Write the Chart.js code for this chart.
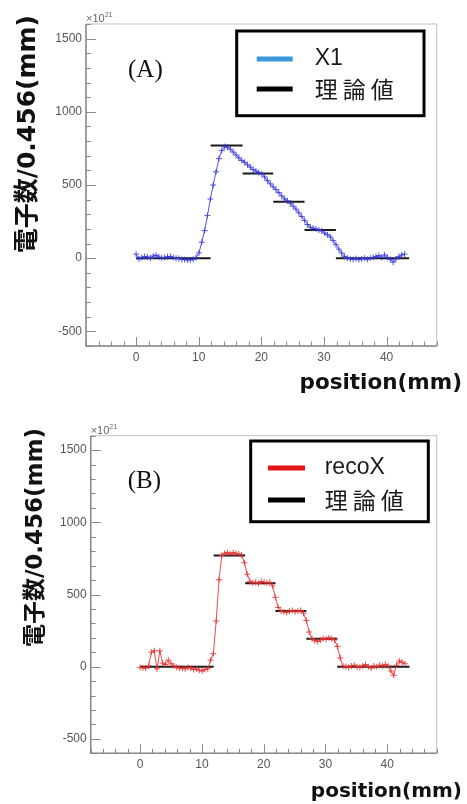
<!DOCTYPE html>
<html>
<head>
<meta charset="utf-8">
<script src="https://cdn.jsdelivr.net/npm/chart.js@4.4.0/dist/chart.umd.min.js"></script>
<style>
html, body { margin: 0; padding: 0; background: #fff; }
.panel { position: absolute; left: 0; width: 467px; }
#panelA { top: 0; height: 400px; }
#panelB { top: 400px; height: 404px; }
</style>
</head>
<body>
<div class="panel" id="panelA"><canvas id="chartA"></canvas></div>
<div class="panel" id="panelB"><canvas id="chartB"></canvas></div>
<script>
// bin width in mm (one point per bin)
const binWidth = 0.456;

// (A) X1, x10^21 electrons per bin
const x1Values = [
    28, -5, 5, 12, 8, 0, 15, 20, 8, 3, 5, 10, 12, 5, 0, -3, -8, -10, -12, -12, -8, 5,
    36, 109, 188, 291, 404, 500, 590, 680,
    735, 762, 758, 745, 725, 705, 685, 668, 655, 638, 622, 605, 595, 585, 575,
    555, 530, 508, 487, 468, 448, 425, 405, 392, 375, 355, 335, 310, 285, 258,
    230, 212, 205, 200, 192, 186, 172, 160, 145, 120, 92, 62, 35, 12, 0,
    -5, -8, -3, -10, -5, 0, -8, 2, 5, 12, 18, 5, 22, 5, -8, -27, -5, 10, 22, 28
];

// (B) recoX
const recoXValues = [
    -5, -8, -10, 5, 100, 110, -15, 110, 25, 15, 45, 20, 5, -5, -10, -12, -15, -5, -10, -20, -15, -25, -30, -20, -15,
    45, 90, 316, 602, 770, 785, 790, 780, 790, 785, 780, 775,
    720, 640, 590, 580, 585, 575, 590, 585, 580, 585, 560, 480, 410,
    385, 380, 375, 385, 390, 380, 385, 390, 370, 320, 240, 195,
    180, 175, 185, 195, 190, 200, 195, 185, 140, 60, 5,
    0, -5, 5, 10, 0, -5, 5, 15, 0, -10, 5, 0, 10, 5, 15, 5, -30, -60, 10, 40, 30, 20
];

// theory (理論値) step edges and levels
const theoryEdges = [0, 11.9, 17.0, 21.9, 26.9, 31.9, 43.6];
const theoryValues = [0, 770, 578, 386, 193, 0];

const xTickLabels = [0, 10, 20, 30, 40];
const yTickLabels = [-500, 0, 500, 1000, 1500];

function toPoints(values) {
    return values.map((v, i) => ({ x: i * binWidth, y: v }));
}

function theoryPoints() {
    const pts = [];
    for (let k = 0; k < theoryValues.length; k++) {
        pts.push({ x: theoryEdges[k], y: theoryValues[k] });
        pts.push({ x: theoryEdges[k + 1], y: theoryValues[k] });
        pts.push({ x: theoryEdges[k + 1], y: null });
    }
    return pts;
}

const decorPlugin = {
    id: 'decor',
    afterDraw(chart, args, o) {
        const ctx = chart.ctx;
        const a = chart.chartArea;
        const xs = chart.scales.x, ys = chart.scales.y;
        ctx.save();

        // frame
        ctx.lineWidth = 1;
        ctx.strokeStyle = '#c0c0c0';
        ctx.strokeRect(a.left, a.top, a.right - a.left, a.bottom - a.top);
        ctx.strokeStyle = '#8a8a8a';
        ctx.lineWidth = 1.5;
        ctx.beginPath();
        ctx.moveTo(a.left, a.top);
        ctx.lineTo(a.left, a.bottom);
        ctx.lineTo(a.right, a.bottom);
        ctx.stroke();

        // inward ticks
        ctx.lineWidth = 1;
        ctx.strokeStyle = '#8a8a8a';
        ctx.beginPath();
        for (let v = ys.min; v <= ys.max; v += o.yMinor) {
            const p = Math.round(ys.getPixelForValue(v)) + 0.5;
            const len = v % o.yMajor === 0 ? 10 : 5;
            ctx.moveTo(a.left, p);
            ctx.lineTo(a.left + len, p);
        }
        for (let v = xs.min; v <= xs.max; v += o.xMinor) {
            const p = Math.round(xs.getPixelForValue(v)) + 0.5;
            const len = v % o.xMajor === 0 ? 9 : 4.5;
            ctx.moveTo(p, a.bottom);
            ctx.lineTo(p, a.bottom - len);
        }
        ctx.stroke();

        // x10^21
        ctx.fillStyle = '#666';
        ctx.textAlign = 'left';
        ctx.textBaseline = 'alphabetic';
        ctx.font = '11px "Liberation Sans"';
        ctx.fillText('×10', a.left, a.top - 2);
        const w = ctx.measureText('×10').width;
        ctx.font = '7px "Liberation Sans"';
        ctx.fillText('21', a.left + w, a.top - 7);

        // axis titles
        ctx.fillStyle = '#111';
        ctx.font = o.yTitle.font;
        ctx.save();
        ctx.translate(o.yTitle.x, o.yTitle.y);
        ctx.rotate(-Math.PI / 2);
        ctx.textAlign = 'right';
        ctx.textBaseline = 'middle';
        ctx.fillText(o.yTitle.text, 0, 0);
        ctx.restore();

        ctx.font = o.xTitle.font;
        ctx.textAlign = 'right';
        ctx.textBaseline = 'middle';
        ctx.fillText(o.xTitle.text, o.xTitle.x, o.xTitle.y);

        // panel label
        ctx.font = '25px "Liberation Serif"';
        ctx.textAlign = 'left';
        ctx.fillText(o.tag.text, o.tag.x, o.tag.y);

        // legend box
        const L = o.legend;
        ctx.fillStyle = '#fff';
        ctx.fillRect(L.x, L.y, L.w, L.h);
        ctx.strokeStyle = '#000';
        ctx.lineWidth = 3;
        ctx.strokeRect(L.x, L.y, L.w, L.h);
        chart.data.datasets.forEach((ds, k) => {
            const yy = L.y + L.rows[k];
            ctx.strokeStyle = ds.legendColor;
            ctx.lineWidth = 5;
            ctx.beginPath();
            ctx.moveTo(L.x + L.lineX, yy);
            ctx.lineTo(L.x + L.lineX + L.lineLen, yy);
            ctx.stroke();
            ctx.fillStyle = '#1a1a1a';
            ctx.font = ds.legendFont;
            ctx.letterSpacing = ds.legendSpacing || '0px';
            ctx.textAlign = 'left';
            ctx.textBaseline = 'middle';
            ctx.fillText(ds.label, L.x + L.textX, yy);
            ctx.letterSpacing = '0px';
        });

        ctx.restore();
    }
};

function makeChart(id, cfg) {
    return new Chart(document.getElementById(id), {
        type: 'line',
        data: {
            datasets: [{
                label: cfg.label,
                data: toPoints(cfg.values),
                borderColor: cfg.color,
                borderWidth: 1,
                pointStyle: 'cross',
                pointRadius: 3,
                pointBorderWidth: 1,
                pointBorderColor: cfg.color,
                fill: false,
                tension: 0,
                legendColor: cfg.legendColor,
                legendFont: '23px "Liberation Sans"'
            }, {
                label: '理論値',
                data: theoryPoints(),
                borderColor: '#1a1a1a',
                borderWidth: 2,
                pointRadius: 0,
                fill: false,
                legendColor: '#000',
                legendFont: '23px "Noto Sans CJK JP"',
                legendSpacing: '5px'
            }]
        },
        options: {
            animation: false,
            responsive: true,
            maintainAspectRatio: false,
            events: [],
            layout: { padding: { left: 0, right: 30.3, top: cfg.top, bottom: 0 } },
            scales: {
                x: {
                    type: 'linear',
                    min: -8,
                    max: 48,
                    afterBuildTicks: s => { s.ticks = xTickLabels.map(v => ({ value: v })); },
                    afterFit: s => { s.height = cfg.xHeight; },
                    ticks: { color: '#555', font: { family: 'Liberation Sans', size: 12 }, padding: 4, maxRotation: 0, callback: v => String(v) },
                    grid: { display: false, drawTicks: false },
                    border: { display: false }
                },
                y: {
                    type: 'linear',
                    min: -600,
                    max: 1600,
                    afterBuildTicks: s => { s.ticks = yTickLabels.map(v => ({ value: v })); },
                    afterFit: s => { s.width = cfg.yWidth; },
                    ticks: { color: '#555', font: { family: 'Liberation Sans', size: 12 }, padding: 4, callback: v => String(v) },
                    grid: { display: false, drawTicks: false },
                    border: { display: false }
                }
            },
            plugins: {
                legend: { display: false },
                tooltip: { enabled: false },
                decor: {
                    yMinor: 100, yMajor: 500, xMinor: 2, xMajor: 10,
                    yTitle: cfg.yTitle,
                    xTitle: cfg.xTitle,
                    tag: cfg.tag,
                    legend: cfg.legend
                }
            }
        },
        plugins: [decorPlugin]
    });
}

makeChart('chartA', {
    label: 'X1',
    values: x1Values,
    color: 'rgba(55,55,225,0.85)',
    legendColor: '#3a9ad9',
    top: 24,
    yWidth: 86,
    xHeight: 54,
    yTitle: { text: '電子数/0.456(mm)', x: 28.5, y: 15, font: 'bold 25px "DejaVu Sans", "Noto Sans CJK JP"' },
    xTitle: { text: 'position(mm)', x: 462, y: 383, font: 'bold 21.5px "DejaVu Sans"' },
    tag: { text: '(A)', x: 128, y: 70 },
    legend: { x: 236.7, y: 31, w: 187.3, h: 84.7, rows: [28, 58], lineX: 20, lineLen: 36, textX: 78 }
});

makeChart('chartB', {
    label: 'recoX',
    values: recoXValues,
    color: 'rgba(235,45,45,0.85)',
    legendColor: '#e61414',
    top: 35.7,
    yWidth: 90.7,
    xHeight: 50.7,
    yTitle: { text: '電子数/0.456(mm)', x: 36, y: 28, font: 'bold 23px "DejaVu Sans", "Noto Sans CJK JP"' },
    xTitle: { text: 'position(mm)', x: 462, y: 391.7, font: 'bold 20px "DejaVu Sans"' },
    tag: { text: '(B)', x: 127.7, y: 81 },
    legend: { x: 250.7, y: 41, w: 177.6, h: 80.7, rows: [27, 59], lineX: 17.3, lineLen: 37, textX: 74 }
});
</script>
</body>
</html>
